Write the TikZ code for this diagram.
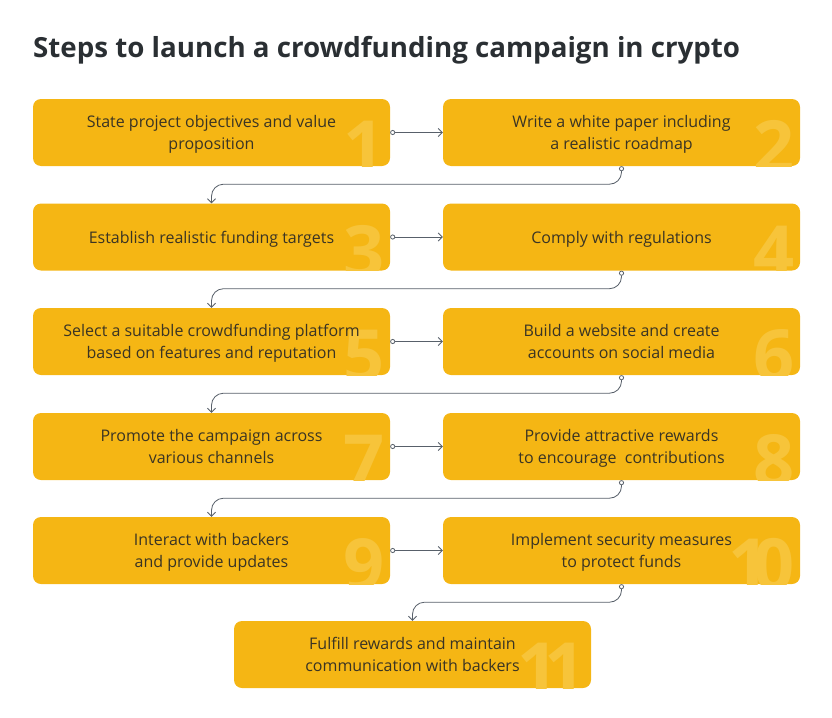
\documentclass[tikz,border=0pt]{standalone}
\usepackage{fontspec}
\setmainfont{Open Sans}
\usetikzlibrary{arrows.meta}

\definecolor{boxyellow}{RGB}{245,182,20}
\definecolor{numyellow}{RGB}{247,196,58}
\definecolor{textdark}{RGB}{58,52,36}
\definecolor{titledark}{RGB}{42,47,51}
\definecolor{lineslate}{RGB}{88,96,106}

\begin{document}
\begin{tikzpicture}[
    x=1pt, y=1pt,
    stepnum/.style={inner sep=0pt, minimum width=0pt, minimum height=0pt, text height=51.5pt, text depth=0pt,
        text=numyellow, font=\fontsize{72}{72}\selectfont\bfseries},
    stepbox/.style={fill=boxyellow, rounded corners=8pt, minimum width=357pt, minimum height=67pt,
        inner sep=0pt, align=center, text=textdark, text depth=-1.3pt, font=\fontsize{16}{22.5}\selectfont,
        path picture={\node[stepnum, anchor=north east] at ([xshift=-5pt,yshift=-22pt]path picture bounding box.north east) {#1};}},
    flow/.style={draw=lineslate, line width=0.8pt, {Circle[open, fill=white, length=5pt]}-{Straight Barb[length=4pt, width=8pt]}},
    turn/.style={flow, rounded corners=12pt}
]
    \useasboundingbox (0,0) rectangle (832,-717);

    % Title
    \node[anchor=base west, inner sep=0pt, text=titledark, font=\fontsize{27.7}{30}\selectfont\bfseries] (title) at (33,-58) {Steps to launch a crowdfunding campaign in crypto};

    % Row 1
    \node[stepbox=1] (s1) at (211.5,-132.5) {State project objectives and value\\proposition};
    \node[stepbox=2] (s2) at (621.5,-132.5) {Write a white paper including\\a realistic roadmap};

    % Row 2
    \node[stepbox=3] (s3) at (211.5,-237) {Establish realistic funding targets};
    \node[stepbox=4] (s4) at (621.5,-237) {Comply with regulations};

    % Row 3
    \node[stepbox=5] (s5) at (211.5,-341.5) {Select a suitable crowdfunding platform\\based on features and reputation};
    \node[stepbox=6] (s6) at (621.5,-341.5) {Build a website and create\\accounts on social media};

    % Row 4
    \node[stepbox=7] (s7) at (211.5,-446.5) {Promote the campaign across\\various channels};
    \node[stepbox=8] (s8) at (621.5,-446.5) {Provide attractive rewards\\to encourage\ \ contributions};

    % Row 5
    \node[stepbox=9] (s9) at (211.5,-550.5) {Interact with backers\\and provide updates};
    \node[stepbox={1\kern-16pt0}] (s10) at (621.5,-550.5) {Implement security measures\\to protect funds};

    % Row 6
    \node[stepbox={1\kern-14pt1}] (s11) at (412.5,-654.5) {Fulfill rewards and maintain\\communication with backers};

    % Connectors across
    \draw[flow] (s1.east) -- (s2.west);
    \draw[flow] (s3.east) -- (s4.west);
    \draw[flow] (s5.east) -- (s6.west);
    \draw[flow] (s7.east) -- (s8.west);
    \draw[flow] (s9.east) -- (s10.west);

    % Connectors down to the next row
    \draw[turn] (s2.south) -- ++(0,-18) -| (s3.north);
    \draw[turn] (s4.south) -- ++(0,-18) -| (s5.north);
    \draw[turn] (s6.south) -- ++(0,-18) -| (s7.north);
    \draw[turn] (s8.south) -- ++(0,-18) -| (s9.north);
    \draw[turn] (s10.south) -- ++(0,-18) -| (s11.north);

\end{tikzpicture}
\end{document}
